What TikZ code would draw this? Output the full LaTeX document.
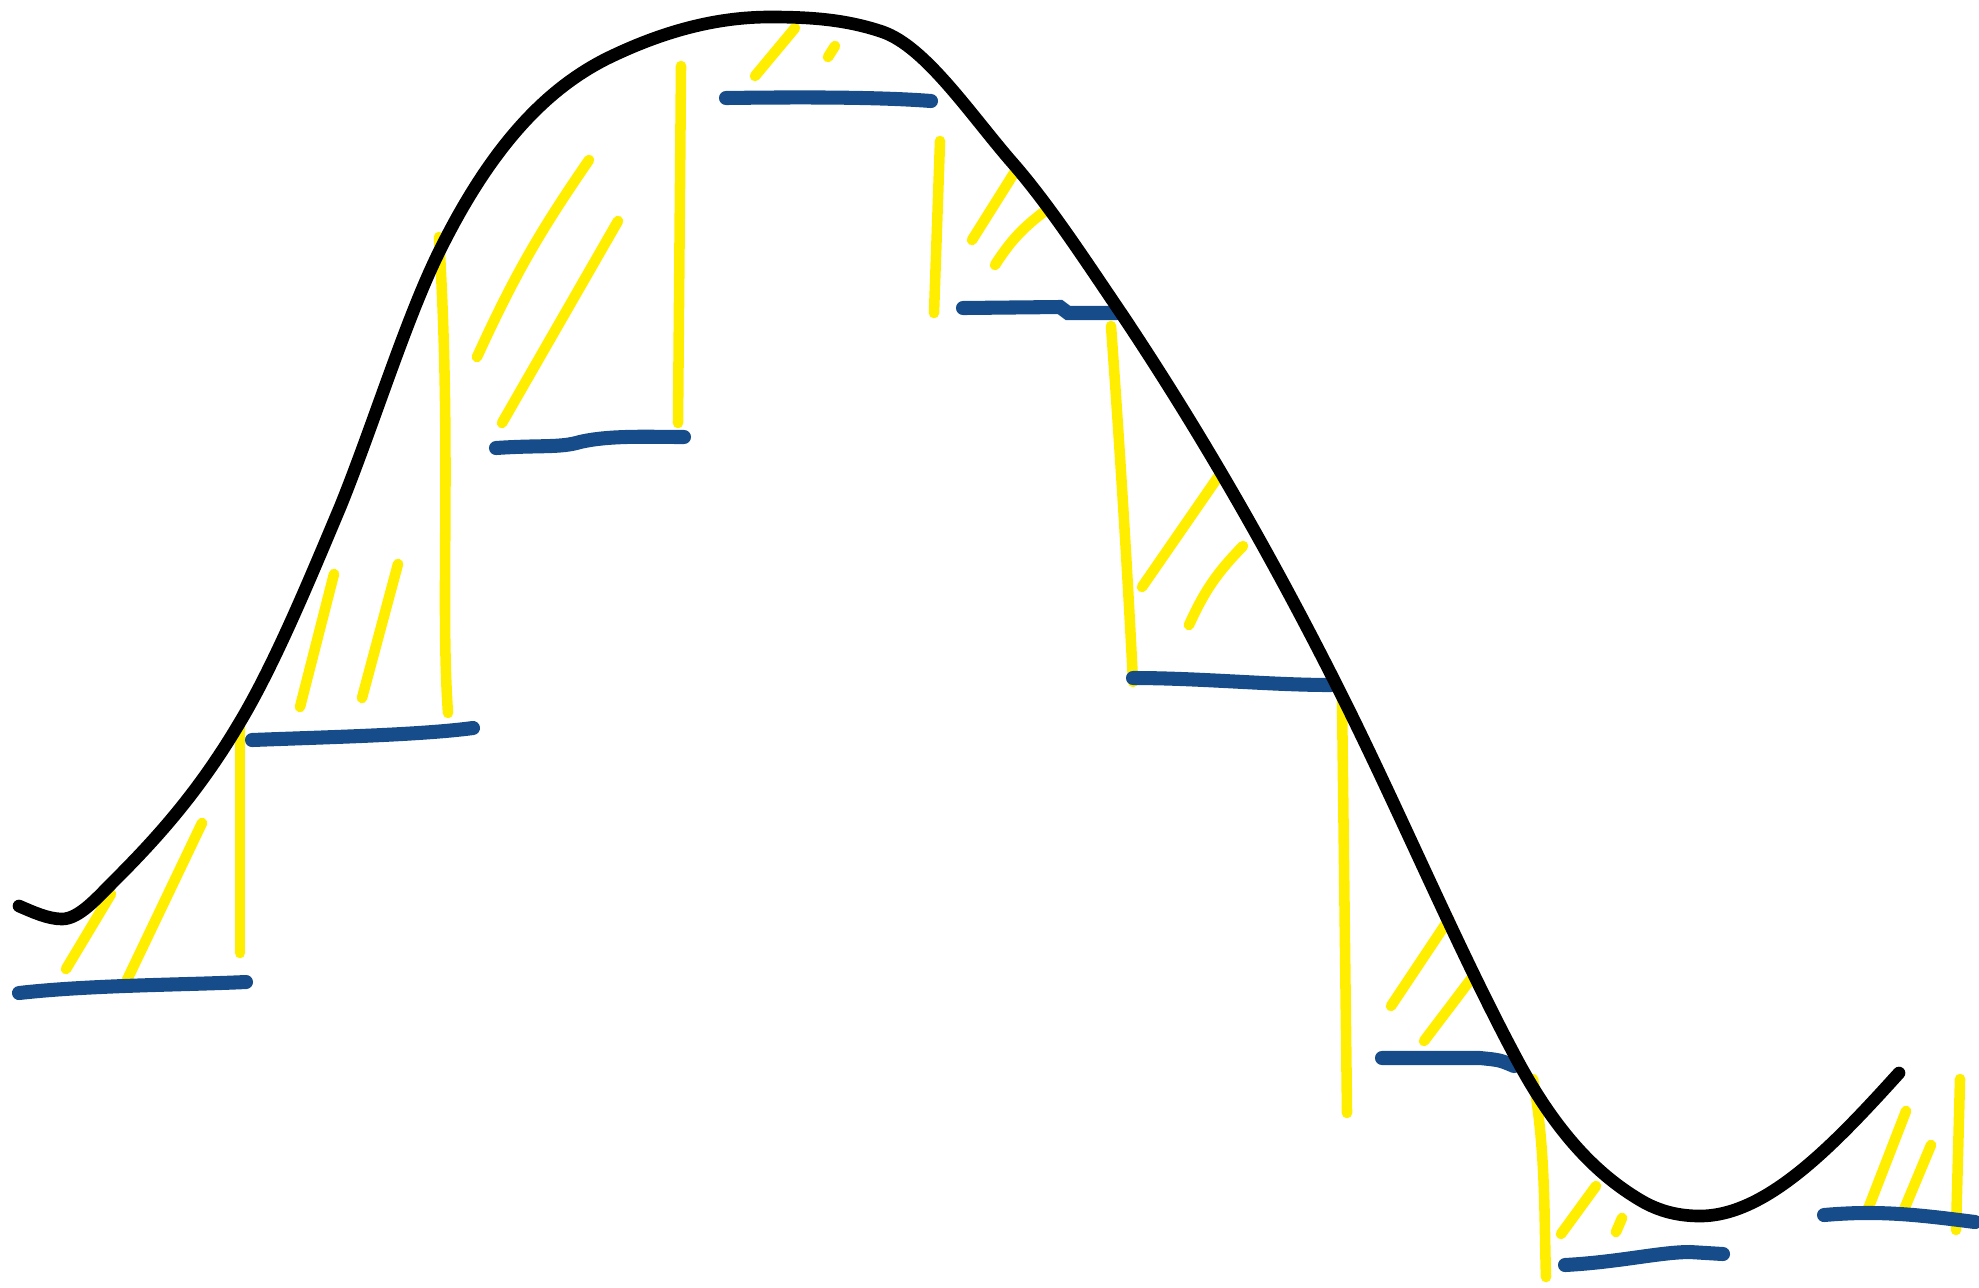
\documentclass[tikz,border=0pt]{standalone}
\usetikzlibrary{calc}
\definecolor{azulesc}{RGB}{22,76,138}
\definecolor{amarillo}{RGB}{255,238,0}

\begin{document}
\begin{tikzpicture}[x=0.01cm, y=-0.01cm,
  curva/.style={line width=3.6pt, black, line cap=round, line join=round},
  escalon/.style={line width=4pt, azulesc, line cap=round},
  poste/.style={line width=3pt, amarillo, line cap=round},
  raya/.style={line width=3pt, amarillo, line cap=round}]
\useasboundingbox (0,0) rectangle (1979,1287);
% Rayado amarillo entre la curva y los escalones
\draw[raya] (111,894) -- (66,969);
\draw[raya] (202,823) -- (126,982);
\draw[raya] (334,574) -- (300,707);
\draw[raya] (398,564) -- (362,698);
\draw[raya] (589,160) to[bend right=5] (477,357);
\draw[raya] (618,221) -- (502,423);
\draw[raya] (795,28) -- (755,76);
\draw[raya] (835,46) -- (828,57);
\draw[raya] (1016,170) -- (972,240);
\draw[raya] (1045,211) to[bend right=10] (995,265);
\draw[raya] (1218,477) -- (1142,587);
\draw[raya] (1243,546) to[bend right=10] (1189,625);
\draw[raya] (1449,919) -- (1391,1006);
\draw[raya] (1474,975) -- (1424,1041);
\draw[raya] (1596,1186) -- (1561,1234);
\draw[raya] (1622,1218) -- (1616,1232);
\draw[raya] (1906,1111) -- (1868,1209);
\draw[raya] (1931,1145) -- (1903,1212);
% Postes verticales
\draw[poste] (240,722) -- (240,953);
\draw[poste] (439,237) .. controls (452,450) and (440,600) .. (448,713);
\draw[poste] (681,66) -- (678,423);
\draw[poste] (940,141) -- (934,313);
\draw[poste] (1111,326) .. controls (1120,450) and (1128,580) .. (1133,682);
\draw[poste] (1342,698) -- (1347,1113);
\draw[poste] (1533,1079) .. controls (1546,1150) and (1544,1220) .. (1546,1277);
\draw[poste] (1960,1079) -- (1956,1230);
% Escalones azules
\draw[escalon] (19,993) .. controls (90,985) and (180,985) .. (246,982);
\draw[escalon] (252,740) .. controls (330,737) and (420,735) .. (473,728);
\draw[escalon] (496,448) .. controls (540,445) and (560,448) .. (580,442)
  .. controls (610,435) and (650,437) .. (684,437);
\draw[escalon] (726,98) .. controls (800,97) and (880,97) .. (931,101);
\draw[escalon] (963,308) -- (1060,307) -- (1068,313) -- (1117,313);
\draw[escalon] (1133,678) .. controls (1200,678) and (1270,685) .. (1331,685);
\draw[escalon] (1382,1058) -- (1480,1058) .. controls (1500,1060) .. (1514,1066);
\draw[escalon] (1565,1265) .. controls (1620,1262) and (1660,1252) .. (1690,1252)
  -- (1723,1254);
\draw[escalon] (1824,1215) .. controls (1880,1210) and (1920,1215) .. (1975,1222);
% La curva negra
\draw[curva] (19,906) .. controls (33,912) and (48,919) .. (62,919)
  .. controls (79,919) and (97,898) .. (114,881)
  .. controls (156,839) and (198,793) .. (240,722)
  .. controls (274,665) and (307,586) .. (341,505)
  .. controls (374,423) and (407,316) .. (440,250)
  .. controls (495,139) and (551,87) .. (606,59)
  .. controls (661,32) and (715,17) .. (770,17)
  .. controls (808,17) and (845,19) .. (883,32)
  .. controls (925,47) and (968,111) .. (1010,160)
  .. controls (1048,203) and (1085,260) .. (1123,316)
  .. controls (1195,424) and (1266,545) .. (1338,688)
  .. controls (1397,805) and (1455,943) .. (1514,1054)
  .. controls (1556,1134) and (1598,1175) .. (1640,1200)
  .. controls (1660,1212) and (1680,1216) .. (1700,1216)
  .. controls (1766,1216) and (1833,1146) .. (1899,1073);
\end{tikzpicture}
\end{document}
